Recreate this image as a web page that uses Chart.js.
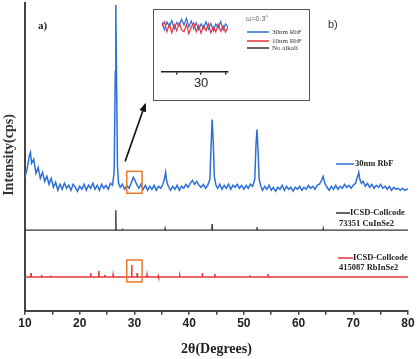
<html>

<head>
    <title>
        XRD
    </title>
    <script src="https://cdn.jsdelivr.net/npm/chart.js"></script>
    <style>
        body {
            margin: 0;
            background: #fff;
        }

        .wrap {
            position: relative;
            width: 417px;
            height: 359px;
        }

        .inset {
            position: absolute;
            left: 153px;
            top: 9px;
            width: 157px;
            height: 92px;
            box-sizing: border-box;
            border: 1.5px solid #555;
        }
    </style>
</head>

<body>
    <div class="wrap">
        <canvas id="mainChart" width="417" height="359"></canvas>
        <div class="inset"><canvas id="insetChart" width="154" height="89"></canvas></div>
    </div>

    <script>
        // 2theta / counts of the 30nm RbF scan (shifted up so it sits above the reference patterns)
        const rbf30Scan = [
            [10.0, 134], [10.4, 143], [10.8, 156], [11.0, 159], [11.2, 148], [11.6, 152], [12.0, 138], [12.4, 144],
            [12.8, 133], [13.2, 139], [13.6, 130], [14.0, 135], [14.4, 127], [14.8, 133], [15.2, 124], [15.6, 129],
            [16.0, 121], [16.4, 127], [16.8, 122], [17.2, 128], [17.6, 123], [18.0, 126], [18.4, 121], [18.8, 127],
            [19.2, 124], [19.6, 120], [20.0, 125], [20.4, 122], [20.8, 127], [21.2, 121], [21.6, 126], [22.0, 123],
            [22.4, 128], [22.8, 122], [23.2, 126], [23.6, 121], [24.0, 127], [24.4, 123], [24.8, 126], [25.2, 122],
            [25.6, 128], [26.0, 126], [26.3, 140], [26.5, 240], [26.6, 307], [26.7, 250], [26.9, 145], [27.1, 128],
            [27.4, 124], [27.8, 127], [28.2, 122], [28.6, 126], [29.0, 123], [29.4, 128], [29.8, 134], [30.1, 131],
            [30.4, 127], [30.8, 123], [31.2, 127], [31.6, 122], [32.0, 126], [32.4, 121], [32.8, 125], [33.2, 122],
            [33.6, 126], [34.0, 121], [34.4, 125], [34.8, 123], [35.2, 127], [35.5, 133], [35.7, 139], [35.9, 130],
            [36.2, 125], [36.6, 121], [37.0, 125], [37.4, 122], [37.8, 126], [38.2, 121], [38.6, 125], [39.0, 123],
            [39.4, 127], [39.8, 124], [40.2, 128], [40.6, 131], [41.0, 127], [41.4, 130], [41.8, 126], [42.2, 124],
            [42.6, 127], [43.0, 123], [43.4, 126], [43.8, 132], [44.0, 165], [44.2, 192], [44.4, 170], [44.6, 135],
            [44.9, 126], [45.2, 123], [45.6, 127], [46.0, 122], [46.4, 126], [46.8, 123], [47.2, 127], [47.6, 122],
            [48.0, 126], [48.4, 124], [48.8, 127], [49.2, 123], [49.6, 126], [50.0, 122], [50.4, 126], [50.8, 123],
            [51.2, 127], [51.6, 125], [52.0, 132], [52.2, 165], [52.4, 182], [52.6, 160], [52.8, 132], [53.1, 125],
            [53.4, 121], [53.8, 125], [54.2, 122], [54.6, 126], [55.0, 121], [55.4, 124], [55.8, 120], [56.2, 124],
            [56.6, 122], [57.0, 126], [57.4, 121], [57.8, 125], [58.2, 122], [58.6, 124], [59.0, 120], [59.4, 124],
            [59.8, 122], [60.2, 125], [60.6, 121], [61.0, 124], [61.4, 122], [61.8, 126], [62.2, 123], [62.6, 125],
            [63.0, 122], [63.4, 126], [63.8, 127], [64.2, 131], [64.5, 135], [64.8, 128], [65.2, 124], [65.6, 121],
            [66.0, 125], [66.4, 122], [66.8, 126], [67.2, 122], [67.6, 125], [68.0, 123], [68.4, 127], [68.8, 124],
            [69.2, 126], [69.6, 123], [70.0, 126], [70.4, 128], [70.8, 135], [71.0, 139], [71.2, 132], [71.5, 128],
            [71.8, 130], [72.2, 125], [72.6, 128], [73.0, 124], [73.4, 127], [73.8, 123], [74.2, 126], [74.6, 124],
            [75.0, 127], [75.4, 123], [75.8, 125], [76.2, 122], [76.6, 125], [77.0, 121], [77.4, 124], [77.8, 122],
            [78.2, 123], [78.6, 121], [79.0, 123], [79.4, 121], [79.8, 122], [80.0, 122]
        ]

        // reference stick patterns
        const cuinse2Base = 81
        const cuinse2Pos = [26.6, 27.8, 35.6, 44.2, 52.4, 64.5]
        const cuinse2Height = [20, 1.5, 1.5, 6, 3, 1.5]

        const rbinse2Base = 34
        const rbinse2Pos = [11.1, 13.0, 14.65, 22.0, 23.5, 24.6, 26.1, 29.5, 30.5, 32.3, 34.35, 38.3, 42.4, 44.7, 51.1, 54.4]
        const rbinse2Height = [4, 2, 1.5, 4, 6, 2, 2, 12, 4, 2, 1, 1, 4, 3, 1.5, 3]

        // inset: zoom around 30 deg
        const insetBlue = [
            [28.3, 78], [28.4, 88], [28.5, 74], [28.6, 90], [28.7, 80], [28.8, 93], [28.9, 76], [29.0, 89],
            [29.1, 82], [29.2, 95], [29.3, 84], [29.4, 97], [29.5, 80], [29.6, 92], [29.7, 76], [29.8, 88],
            [29.9, 74], [30.0, 86], [30.1, 77], [30.2, 90], [30.3, 75], [30.4, 87], [30.5, 72], [30.6, 86],
            [30.7, 78], [30.8, 91], [30.9, 74], [31.0, 86], [31.1, 79], [31.2, 84]
        ]
        const insetRed = [
            [28.3, 74], [28.4, 82], [28.5, 90], [28.6, 70], [28.7, 86], [28.8, 68], [28.9, 84], [29.0, 72],
            [29.1, 88], [29.2, 74], [29.3, 70], [29.4, 85], [29.5, 66], [29.6, 80], [29.7, 88], [29.8, 70],
            [29.9, 83], [30.0, 67], [30.1, 82], [30.2, 72], [30.3, 86], [30.4, 68], [30.5, 80], [30.6, 70],
            [30.7, 85], [30.8, 71], [30.9, 82], [31.0, 69], [31.1, 80], [31.2, 76]
        ]
        const insetTicks = [29, 30, 31]

        const xTicks = [10, 20, 30, 40, 50, 60, 70, 80]

        function sticks(base, pos, height) {
            let pts = [[10, base]]
            pos.forEach((p, i) => {
                pts.push([p - 0.05, base], [p, base + height[i]], [p + 0.05, base])
            })
            pts.push([80, base])
            return pts
        }

        const BLUE = '#2d6fd8'
        const RED = '#e3363c'
        const BLACK = '#333'
        const ORANGE = '#e9792c'

        const annotations = {
            id: 'annotations',
            afterDraw(chart) {
                const ctx = chart.ctx
                const x = chart.scales.x
                const y = chart.scales.y
                ctx.save()

                // orange boxes around the 30 deg region
                ctx.strokeStyle = ORANGE
                ctx.lineWidth = 1.5
                const bx1 = x.getPixelForValue(28.6), bx2 = x.getPixelForValue(31.4)
                ctx.strokeRect(bx1, y.getPixelForValue(140), bx2 - bx1, y.getPixelForValue(118) - y.getPixelForValue(140))
                ctx.strokeRect(bx1, y.getPixelForValue(51), bx2 - bx1, y.getPixelForValue(29) - y.getPixelForValue(51))

                // arrow to inset
                const ax1 = x.getPixelForValue(28.3), ay1 = y.getPixelForValue(150)
                const ax2 = x.getPixelForValue(31.95), ay2 = y.getPixelForValue(207)
                ctx.strokeStyle = '#111'
                ctx.fillStyle = '#111'
                ctx.lineWidth = 1.6
                ctx.beginPath()
                ctx.moveTo(ax1, ay1)
                ctx.lineTo(ax2, ay2)
                ctx.stroke()
                const ang = Math.atan2(ay2 - ay1, ax2 - ax1)
                ctx.beginPath()
                ctx.moveTo(ax2 + 2 * Math.cos(ang), ay2 + 2 * Math.sin(ang))
                ctx.lineTo(ax2 - 7 * Math.cos(ang) + 3.5 * Math.sin(ang), ay2 - 7 * Math.sin(ang) - 3.5 * Math.cos(ang))
                ctx.lineTo(ax2 - 7 * Math.cos(ang) - 3.5 * Math.sin(ang), ay2 - 7 * Math.sin(ang) + 3.5 * Math.cos(ang))
                ctx.closePath()
                ctx.fill()

                // panel labels
                ctx.fillStyle = '#222'
                ctx.textBaseline = 'middle'
                ctx.textAlign = 'left'
                ctx.font = 'bold 11px "Liberation Serif"'
                ctx.fillText('a)', 38, 26)
                ctx.font = '11px "Liberation Sans"'
                ctx.fillStyle = '#333'
                ctx.fillText('b)', 328, 25)

                // y title
                ctx.save()
                ctx.translate(9, 155)
                ctx.rotate(-Math.PI / 2)
                ctx.textAlign = 'center'
                ctx.font = 'bold 14px "Liberation Serif"'
                ctx.fillStyle = '#333'
                ctx.fillText('Intensity(cps)', 0, 0)
                ctx.restore()

                // series labels
                ctx.font = 'bold 8.5px "Liberation Serif"'
                ctx.fillStyle = '#222'
                ctx.lineWidth = 1.5
                const entry = (color, x1, x2, yy) => {
                    ctx.strokeStyle = color
                    ctx.beginPath()
                    ctx.moveTo(x1, yy)
                    ctx.lineTo(x2, yy)
                    ctx.stroke()
                }
                entry(BLUE, 336, 354, 164)
                ctx.fillText('30nm RbF', 355, 164)
                entry(BLACK, 336, 350, 213)
                ctx.fillText('ICSD-Collcode', 350, 213)
                ctx.fillText('73351 CuInSe2', 339, 224)
                entry(RED, 338, 353, 258)
                ctx.fillText('ICSD-Collcode', 353, 258)
                ctx.fillText('415087 RbInSe2', 339, 268)
                ctx.restore()
            }
        }

        new Chart(document.getElementById('mainChart'), {
            type: 'line',
            data: {
                datasets: [{
                    label: '30nm RbF',
                    data: rbf30Scan,
                    borderColor: BLUE,
                    borderWidth: 1.5,
                    pointRadius: 0,
                    tension: 0
                }, {
                    label: 'ICSD-Collcode 73351 CuInSe2',
                    data: sticks(cuinse2Base, cuinse2Pos, cuinse2Height),
                    borderColor: BLACK,
                    borderWidth: 1.3,
                    pointRadius: 0
                }, {
                    label: 'ICSD-Collcode 415087 RbInSe2',
                    data: sticks(rbinse2Base, rbinse2Pos, rbinse2Height),
                    borderColor: RED,
                    borderWidth: 1.5,
                    pointRadius: 0
                }]
            },
            options: {
                responsive: false,
                animation: false,
                layout: { padding: { left: 17, right: 9, top: 3, bottom: 0 } },
                plugins: { legend: { display: false }, tooltip: { enabled: false } },
                scales: {
                    x: {
                        type: 'linear',
                        min: 10,
                        max: 80,
                        afterBuildTicks: (axis) => {
                            let t = []
                            for (let v = 10; v <= 80; v += 5) t.push({ value: v })
                            axis.ticks = t
                        },
                        ticks: {
                            autoSkip: false,
                            maxRotation: 0,
                            padding: 2,
                            color: '#222',
                            font: { family: 'Liberation Sans', size: 12, weight: 'bold' },
                            callback: (v) => xTicks.includes(v) ? String(v) : ''
                        },
                        grid: { drawOnChartArea: false, tickLength: 4, color: '#444', lineWidth: 1.5 },
                        border: { color: '#444', width: 2 },
                        title: {
                            display: true,
                            text: '2θ(Degrees)',
                            color: '#222',
                            padding: { top: 8, bottom: 1 },
                            font: { family: 'Liberation Serif', size: 14, weight: 'bold' }
                        }
                    },
                    y: {
                        min: 0,
                        max: 309,
                        ticks: { display: false },
                        grid: { display: false },
                        border: { color: '#444', width: 2 }
                    }
                }
            },
            plugins: [annotations]
        })

        const insetDeco = {
            id: 'insetDeco',
            afterDraw(chart) {
                const ctx = chart.ctx
                ctx.save()
                ctx.textBaseline = 'middle'
                ctx.textAlign = 'left'
                ctx.font = '7px "Liberation Sans"'
                ctx.fillStyle = '#666'
                ctx.fillText('ω=0.3°', 92, 9)
                const rows = [[BLUE, '30nm RbF', 22], [RED, '10nm RbF', 31], [BLACK, 'No alkali', 38]]
                ctx.font = '7px "Liberation Serif"'
                ctx.lineWidth = 1.5
                rows.forEach(r => {
                    ctx.strokeStyle = r[0]
                    ctx.beginPath()
                    ctx.moveTo(93, r[2])
                    ctx.lineTo(115, r[2])
                    ctx.stroke()
                    ctx.fillStyle = '#333'
                    ctx.fillText(r[1], 118, r[2])
                })
                ctx.restore()
            }
        }

        new Chart(document.getElementById('insetChart'), {
            type: 'line',
            data: {
                datasets: [{
                    label: '10nm RbF',
                    data: insetRed,
                    borderColor: RED,
                    borderWidth: 1.2,
                    pointRadius: 0
                }, {
                    label: '30nm RbF',
                    data: insetBlue,
                    borderColor: BLUE,
                    borderWidth: 1.2,
                    pointRadius: 0
                }]
            },
            options: {
                responsive: false,
                animation: false,
                layout: { padding: { left: 8, right: 80, top: 2, bottom: 7 } },
                plugins: { legend: { display: false }, tooltip: { enabled: false } },
                scales: {
                    x: {
                        type: 'linear',
                        min: 28.4,
                        max: 31.1,
                        afterBuildTicks: (axis) => {
                            axis.ticks = insetTicks.map(v => ({ value: v }))
                        },
                        ticks: {
                            autoSkip: false,
                            maxRotation: 0,
                            padding: 1,
                            color: '#222',
                            font: { family: 'Liberation Sans', size: 13 },
                            callback: (v) => v === 30 ? '30' : ''
                        },
                        grid: { drawOnChartArea: false, tickLength: 3, color: '#222', lineWidth: 1.5 },
                        border: { color: '#222', width: 1.5 }
                    },
                    y: {
                        display: false,
                        min: -10,
                        max: 110
                    }
                }
            },
            plugins: [insetDeco]
        })
    </script>
</body>

</html>
